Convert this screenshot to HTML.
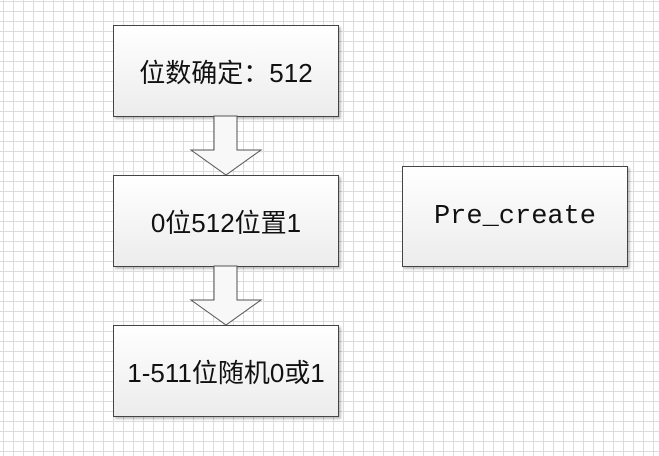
<!DOCTYPE html>
<html><head><style>
body{margin:0;width:659px;height:456px;overflow:hidden;background:#fff;
background-image:linear-gradient(to right,#dcdcdc 1px,transparent 1px),linear-gradient(to bottom,#dcdcdc 1px,transparent 1px);
background-size:10px 10px;background-position:3px 1px;}
.b{position:absolute;border:1px solid #444;background:linear-gradient(#fff,#ececec);box-shadow:2px 2px 2px rgba(0,0,0,.25);display:flex;align-items:center;justify-content:center;font-family:"Liberation Sans","Noto Sans CJK SC",sans-serif;font-size:26px;color:#111;box-sizing:border-box}
svg{position:absolute;left:0;top:0}
</style></head><body>
<div class="b" style="left:113px;top:25px;width:226px;height:92px">位数确定：512</div>
<div class="b" style="left:113px;top:175px;width:226px;height:92px">0位512位置1</div>
<div class="b" style="left:113px;top:325px;width:226px;height:92px">1-511位随机0或1</div>
<div class="b" style="left:402px;top:166px;width:226px;height:101px;font-family:'Liberation Mono',monospace;font-size:27px">Pre_create</div>
<svg width="659" height="456">
<polygon points="214,116 237,116 237,150 261,150 226,175 191,150 214,150" fill="#f8f8f8" stroke="#555" stroke-width="1"/>
<polygon points="214,266 237,266 237,300 261,300 226,325 191,300 214,300" fill="#f8f8f8" stroke="#555" stroke-width="1"/>
</svg>
</body></html>
